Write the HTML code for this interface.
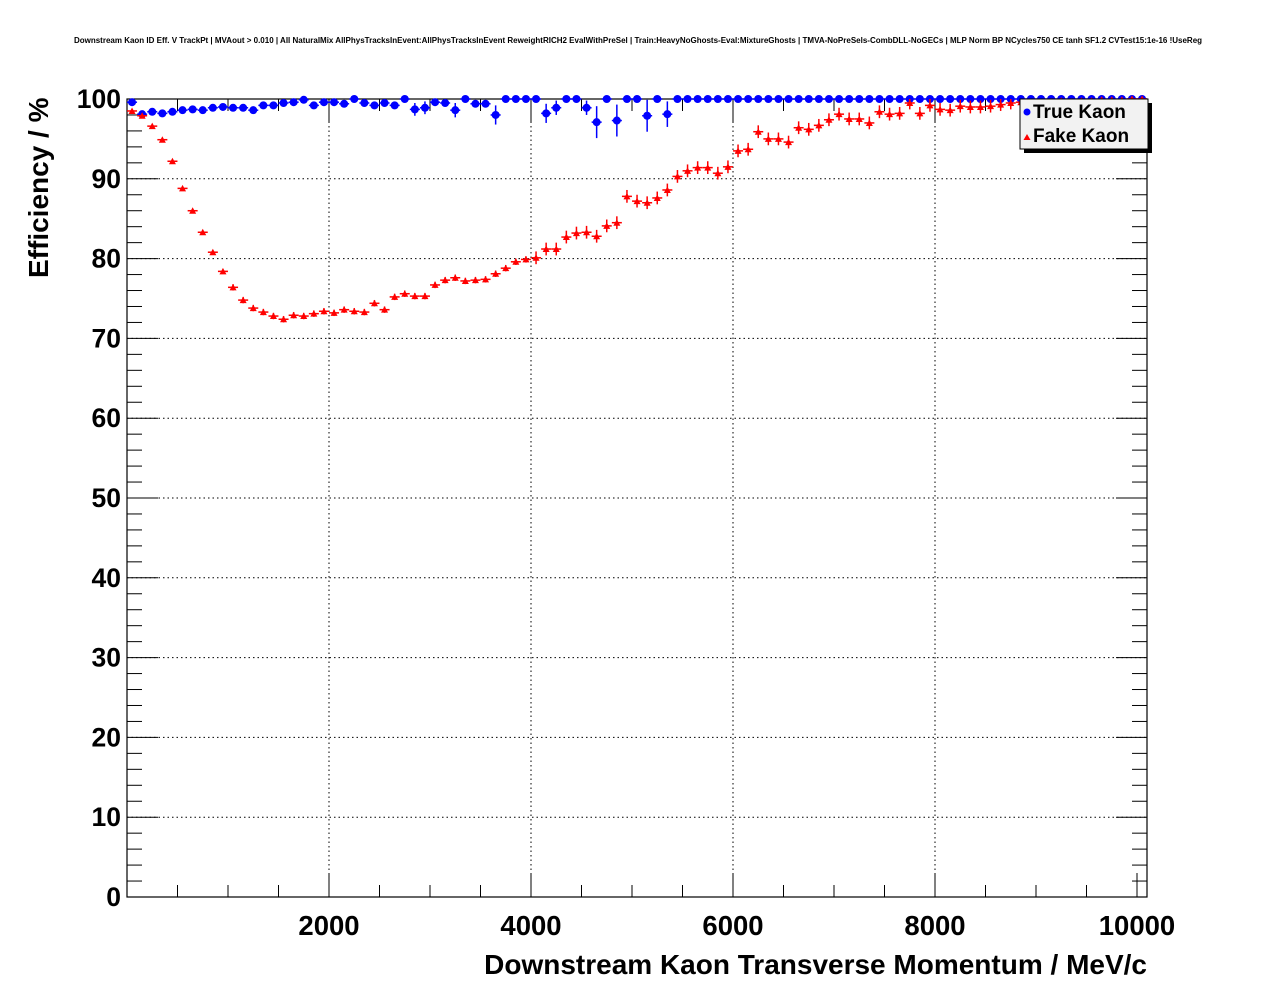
<!DOCTYPE html>
<html><head><meta charset="utf-8"><style>
html,body{margin:0;padding:0;background:#fff;}
svg{display:block;font-family:"Liberation Sans",sans-serif;}
</style></head><body>
<svg id="s" width="1276" height="996" xmlns="http://www.w3.org/2000/svg"></svg>
<script>
const X0=127,X1=1147,Y0=897,Y1=99;
const xp=v=>X0+v*0.101, yp=v=>Y0-(Y0-Y1)*v/100;
let h='';
h+=`<text x="638" y="43" font-size="8" font-weight="bold" text-anchor="middle">Downstream Kaon ID Eff. V TrackPt | MVAout &gt; 0.010 | All NaturalMix AllPhysTracksInEvent:AllPhysTracksInEvent ReweightRICH2 EvalWithPreSel | Train:HeavyNoGhosts-Eval:MixtureGhosts | TMVA-NoPreSels-CombDLL-NoGECs | MLP Norm BP NCycles750 CE tanh SF1.2 CVTest15:1e-16 !UseReg</text>`;
for(let v=2000;v<=8000;v+=2000)h+=`<line x1="${xp(v)}" y1="${Y1}" x2="${xp(v)}" y2="${Y0}" stroke="#000" stroke-dasharray="1.5,3"/>`;
for(let v=10;v<=90;v+=10)h+=`<line x1="${X0}" y1="${yp(v)}" x2="${X1}" y2="${yp(v)}" stroke="#000" stroke-dasharray="1.5,3"/>`;
h+=`<rect x="${X0}" y="${Y1}" width="${X1-X0}" height="${Y0-Y1}" fill="none" stroke="#000" stroke-width="1.2"/>`;
for(let v=500;v<=10000;v+=500){const L=(v%2000==0)?24:12;const x=xp(v);
h+=`<line x1="${x}" y1="${Y0}" x2="${x}" y2="${Y0-L}" stroke="#000"/><line x1="${x}" y1="${Y1}" x2="${x}" y2="${Y1+L}" stroke="#000"/>`;}
for(let v=0;v<=100;v+=2){const L=(v%10==0)?31:15;const y=yp(v);
h+=`<line x1="${X0}" y1="${y}" x2="${X0+L}" y2="${y}" stroke="#000"/><line x1="${X1}" y1="${y}" x2="${X1-L}" y2="${y}" stroke="#000"/>`;}
for(let v=0;v<=100;v+=10)h+=`<text x="121" y="${yp(v)+9}" font-size="26.5" font-weight="bold" text-anchor="end">${v}</text>`;
for(let v=2000;v<=10000;v+=2000)h+=`<text x="${xp(v)}" y="935" font-size="27.5" font-weight="bold" text-anchor="middle">${v}</text>`;
h+=`<text x="1147" y="974" font-size="28" font-weight="bold" text-anchor="end">Downstream Kaon Transverse Momentum / MeV/c</text>`;
h+=`<text transform="translate(48,278) rotate(-90)" font-size="28" font-weight="bold">Efficiency / %</text>`;
const red=[98.5,97.9,96.6,94.9,92.2,88.8,86.0,83.3,80.8,78.4,76.4,74.8,73.8,73.3,72.8,72.4,72.9,72.8,73.1,73.4,73.2,73.6,73.4,73.3,74.4,73.6,75.2,75.6,75.3,75.3,76.7,77.3,77.6,77.2,77.3,77.4,78.1,78.8,79.6,79.9,80.1,81.2,81.2,82.7,83.2,83.3,82.8,84.1,84.5,87.8,87.2,87.0,87.6,88.6,90.3,91.0,91.4,91.4,90.7,91.5,93.5,93.7,95.9,95.0,95.0,94.6,96.4,96.2,96.7,97.4,98.1,97.5,97.5,97.0,98.4,98.1,98.2,99.5,98.2,99.2,98.7,98.6,99.1,99.0,99.0,99.1,99.3,99.5,99.6,99.5,99.6,99.7,99.8,99.7,99.8,99.8,99.9,99.9,99.9,100,100];
const blue=[99.6,98.1,98.4,98.2,98.4,98.6,98.7,98.6,98.9,99.0,98.9,98.9,98.6,99.2,99.2,99.5,99.6,99.9,99.2,99.6,99.6,99.4,100,99.5,99.2,99.5,99.2,100,98.7,98.9,99.6,99.5,98.6,100,99.4,99.4,98.0,100,100,100,100,98.2,98.9,100,100,98.9,97.1,100,97.3,100,100,97.9,100,98.1];
while(blue.length<101)blue.push(100);
const bErr={28:0.8,29:0.8,32:0.9,36:1.2,41:1.2,42:0.9,45:0.9,46:2.0,48:2.0,51:2.0,53:1.6};
for(let i=0;i<101;i++){const xc=xp(50+100*i);
 let v=blue[i];let e=bErr[i]||(v<100?0.25:0);const y=yp(v);
 h+=`<line x1="${xc-5}" y1="${y}" x2="${xc+5}" y2="${y}" stroke="#00f" stroke-width="1.5"/>`;
 if(e)h+=`<line x1="${xc}" y1="${yp(Math.min(100,v+e))}" x2="${xc}" y2="${yp(v-e)}" stroke="#00f" stroke-width="1.5"/>`;
 h+=`<circle cx="${xc}" cy="${y}" r="4" fill="#00f"/>`;}
for(let i=0;i<101;i++){const xc=xp(50+100*i);const v=red[i];const y=yp(v);
 const e=i<10?0.2:(i<40?0.4:0.8);
 h+=`<line x1="${xc-5}" y1="${y}" x2="${xc+5}" y2="${y}" stroke="#f00" stroke-width="1.5"/><line x1="${xc}" y1="${yp(Math.min(100,v+e))}" x2="${xc}" y2="${yp(v-e)}" stroke="#f00" stroke-width="1.5"/>`;
 h+=`<polygon points="${xc-3.5},${y+3} ${xc+3.5},${y+3} ${xc},${y-3.5}" fill="#f00"/>`;}
h+=`<rect x="1024" y="103" width="128" height="50" fill="#000"/><rect x="1020" y="99" width="128" height="50" fill="#f2f2f2" stroke="#000"/>`;
h+=`<circle cx="1027" cy="112" r="3.5" fill="#00f"/><text x="1033" y="118" font-size="19" font-weight="bold">True Kaon</text>`;
h+=`<polygon points="1023.5,140 1030.5,140 1027,134" fill="#f00"/><text x="1033" y="142" font-size="19" font-weight="bold">Fake Kaon</text>`;
document.getElementById('s').innerHTML=h;
</script>
</body></html>
